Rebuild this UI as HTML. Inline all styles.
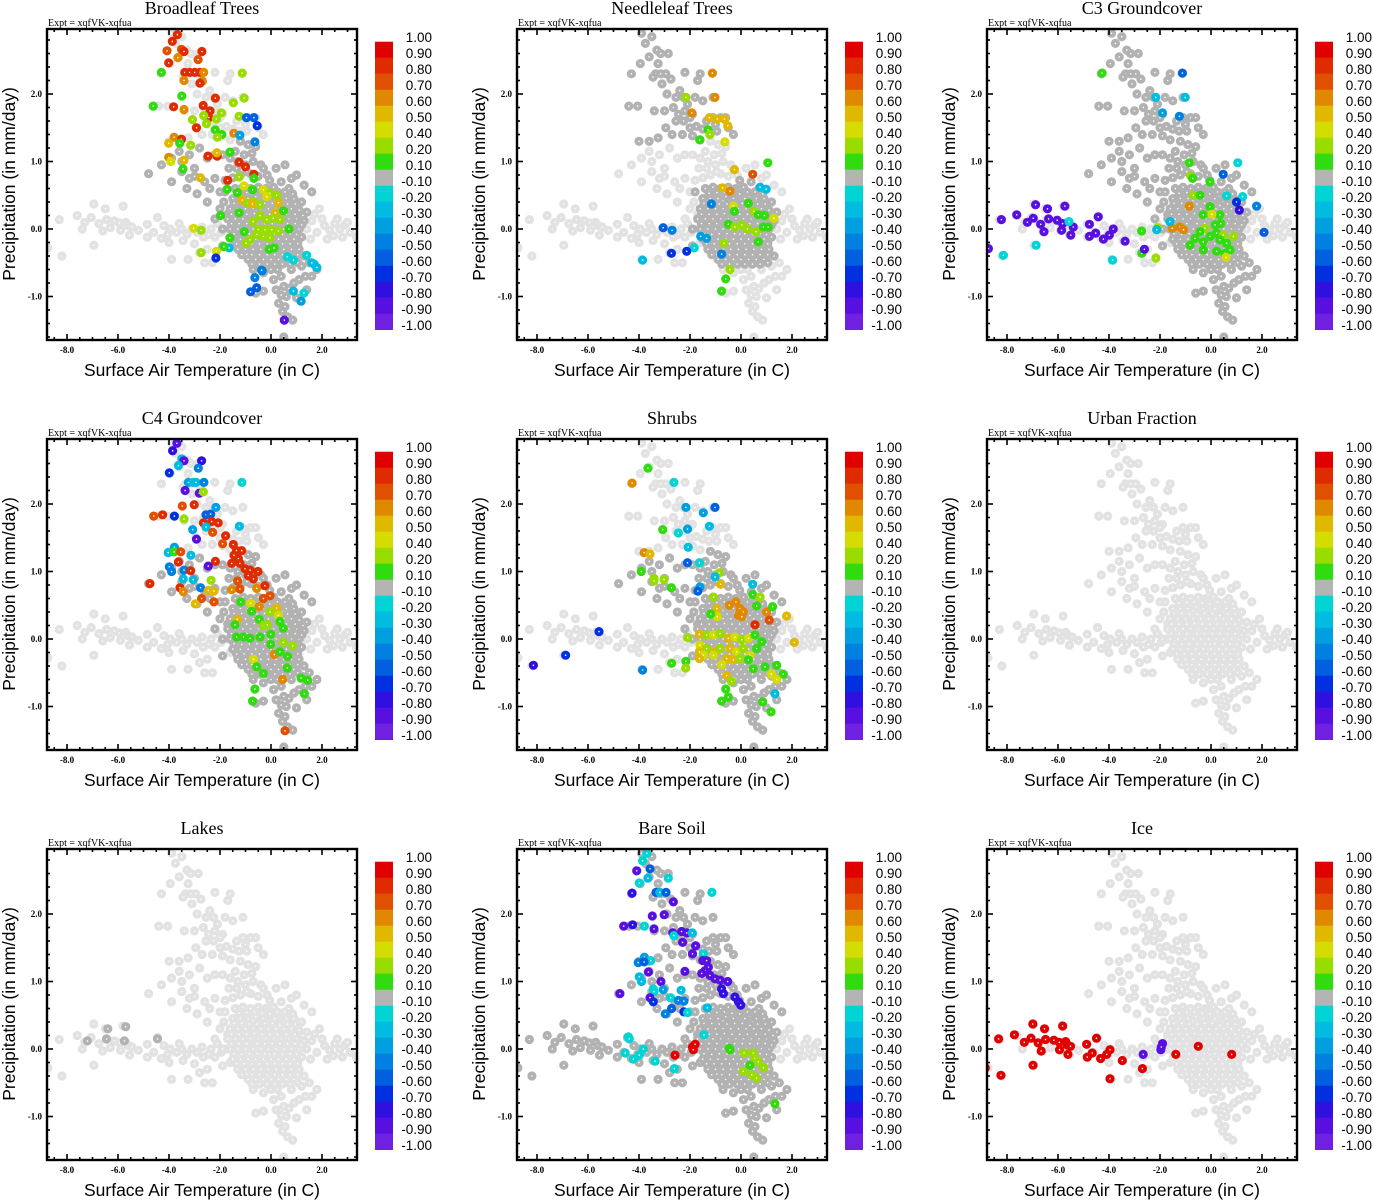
<!DOCTYPE html>
<html><head><meta charset="utf-8"><title>Scatter panels</title>
<style>
html,body{margin:0;padding:0;background:#fff;}
svg{display:block;}
.ttl{font-family:"Liberation Serif",serif;font-size:18px;}
.expt{font-family:"Liberation Serif",serif;font-size:10px;}
.tick{font-family:"Liberation Serif",serif;font-size:9px;font-weight:bold;}
.axl{font-family:"Liberation Sans",sans-serif;font-size:17.5px;}
.cbl{font-family:"Liberation Sans",sans-serif;font-size:13.5px;}
</style></head>
<body>
<svg id="chart" width="1373" height="1200" viewBox="0 0 1373 1200" xmlns="http://www.w3.org/2000/svg"></svg>
<script>
// ---------- data ----------
const panelTitles = ["Broadleaf Trees","Needleleaf Trees","C3 Groundcover","C4 Groundcover","Shrubs","Urban Fraction","Lakes","Bare Soil","Ice"];
const xTicks = [-8,-6,-4,-2,0,2];
const yTicks = [-1,0,1,2];
const cbLabels = ["1.00","0.90","0.80","0.70","0.60","0.50","0.40","0.20","0.10","-0.10","-0.20","-0.30","-0.40","-0.50","-0.60","-0.70","-0.80","-0.90","-1.00"];
const cbLevels = [1.0,0.9,0.8,0.7,0.6,0.5,0.4,0.2,0.1,-0.1,-0.2,-0.3,-0.4,-0.5,-0.6,-0.7,-0.8,-0.9,-1.0];
const cbColors = ["#e00000","#e02a00","#e05000","#e08800","#e0b800","#d4dc00","#98dc00","#30dc10","#b4b4b4","#00d4d4","#00bce0","#00a0e0","#0080e0","#0060e0","#0030e0","#3010e0","#5810e0","#7020e0"];

// shared background cloud (T, P)
const bandL = "-8.75,-0.28 -8.3,0.14 -8.2,-0.4 -7.6,0.2 -7.3,0.1 -7.05,0.17 -6.95,0.37 -6.95,-0.24 -6.75,0.08 -6.5,0.3 -6.6,-0.03 -6.45,0.14 -6.15,0.12 -5.95,0.09 -5.8,0.34 -5.9,-0.02 -5.7,0.1 -5.6,0.05 -5.55,-0.09 -5.45,0.03 -4.85,0.07 -4.85,-0.12 -4.6,-0.05 -4.45,0.17 -4.3,-0.14 -4.05,-0.08 -3.95,0.0 -3.9,-0.45 -3.45,-0.17 -4.2,0.05 -3.7,-0.05 -3.3,-0.08 -3.1,0.0 -2.9,-0.05 -2.7,0.03 -2.65,-0.12 -2.5,-0.3 -2.35,0.0 -2.2,-0.12 -2.1,0.08 -1.95,-0.05 -1.75,0.0 -1.6,-0.2 -1.5,0.06 -5.2,-0.02 -6.3,0.02 -7.4,0.0 -3.6,0.08 -3.0,-0.22 -2.8,-0.35 -3.25,-0.45 -2.6,-0.5 -2.3,-0.5 -4.0,-0.2 -3.5,0.0 -2.45,-0.08";
const bandR = "1.4,0.0 1.6,0.12 1.8,-0.05 2.0,0.15 2.1,0.05 2.3,-0.02 2.5,0.08 2.7,0.0 2.9,0.06 3.1,-0.05 3.35,-0.12 2.2,-0.15 1.9,0.3 2.6,0.15 2.45,-0.1 1.7,0.22 3.0,0.1 1.55,-0.15 2.8,-0.12";
const diagU = "-3.9,2.9 -3.5,2.85 -3.75,2.75 -3.3,2.65 -3.15,2.6 -3.6,2.55 -2.85,2.6 -3.95,2.45 -3.35,2.3 -3.15,2.3 -2.95,2.3 -3.45,2.25 -2.75,2.22 -3.1,2.15 -2.2,2.32 -1.6,2.3 -1.7,2.2 -4.3,2.3 -2.9,2.0 -2.55,1.95 -2.25,1.95 -1.5,1.9 -1.1,1.95 -4.05,1.82 -4.4,1.82 -3.4,1.75 -3.0,1.75 -2.65,1.8 -2.2,1.75 -1.9,1.7 -1.1,1.65 -0.8,1.65 -0.6,1.65 -2.95,1.5 -2.55,1.6 -2.25,1.6 -2.0,1.5 -1.75,1.52 -1.5,1.48 -1.25,1.45 -0.95,1.45 -0.3,1.4 -3.6,1.3 -3.25,1.35 -2.3,1.4 -1.9,1.38 -1.6,1.32 -2.45,1.7 -2.1,1.85 -1.8,1.95 -0.5,1.5 -4.0,1.3 -3.25,2.45 -2.4,2.05 -2.0,1.65 -1.35,1.6 -1.0,1.55 -2.7,1.4";
const diagL = "-1.2,1.3 -0.9,1.25 -0.6,1.22 -3.9,1.05 -3.5,1.0 -3.0,0.9 -2.5,1.05 -2.2,1.1 -1.9,1.1 -1.6,1.05 -1.3,1.0 -1.0,0.95 -0.7,1.0 -0.4,0.95 -4.8,0.82 -3.5,0.85 -3.0,0.78 -2.6,0.7 -2.2,0.75 -1.8,0.72 -1.5,0.76 -1.2,0.8 -0.8,0.82 -0.5,0.78 -0.15,0.8 0.2,0.9 0.55,0.95 1.0,0.8 -3.3,0.6 -2.9,0.52 -2.4,0.6 -2.0,0.55 -1.85,0.4 -3.6,1.15 -3.2,1.1 -2.8,1.2 -4.3,0.95 -3.9,0.7 -3.2,0.75 -2.0,0.3 -2.2,0.15 -1.7,0.22 -2.5,0.4 -1.4,1.15 0.8,0.75 1.3,0.65 1.6,0.55 -1.05,1.1 -0.75,1.12 -1.65,0.9 -1.35,0.9 -0.95,0.85 -0.3,0.9";
const blob = "-1.4,0.6 -1.1,0.62 -0.8,0.6 -0.5,0.62 -0.2,0.6 0.1,0.62 0.4,0.7 0.7,0.6 -1.5,0.45 -1.2,0.45 -0.9,0.45 -0.6,0.48 -0.3,0.45 0.0,0.45 0.3,0.48 0.6,0.45 0.9,0.45 1.2,0.4 -1.6,0.3 -1.3,0.3 -1.0,0.3 -0.7,0.3 -0.4,0.3 -0.1,0.3 0.2,0.3 0.5,0.3 0.8,0.3 1.1,0.28 1.4,0.25 -1.7,0.15 -1.4,0.15 -1.1,0.15 -0.8,0.15 -0.5,0.15 -0.2,0.15 0.1,0.15 0.4,0.15 0.7,0.15 1.0,0.15 1.3,0.12 -1.6,0.0 -1.3,0.0 -1.0,0.0 -0.7,0.0 -0.4,0.0 -0.1,0.0 0.2,0.0 0.5,0.0 0.8,0.0 1.1,0.0 -1.5,-0.15 -1.2,-0.15 -0.9,-0.15 -0.6,-0.15 -0.3,-0.15 0.0,-0.15 0.3,-0.15 0.6,-0.15 0.9,-0.15 1.2,-0.12 -1.3,-0.3 -1.0,-0.3 -0.7,-0.3 -0.4,-0.3 -0.1,-0.3 0.2,-0.3 0.5,-0.3 0.8,-0.3 1.1,-0.3 -0.9,-0.45 -0.6,-0.45 -0.3,-0.45 0.0,-0.45 0.3,-0.45 0.6,-0.45 0.9,-0.45 1.3,-0.4 -0.25,0.55 0.25,0.55 -0.55,0.22 0.35,0.22 -0.85,0.08 0.05,0.08 0.65,0.08 -1.15,-0.08 -0.45,-0.08 0.45,-0.08 1.0,-0.08 -0.15,-0.22 0.75,-0.22 -0.75,-0.38 0.15,-0.38 -0.5,0.4 0.45,0.4 -0.05,0.72 -1.8,0.55 -1.9,0.0 -1.9,-0.25";
const blob2 = "-1.25,0.53 -0.95,0.54 -0.65,0.55 -0.35,0.53 -0.05,0.52 0.15,0.45 0.55,0.55 0.85,0.52 -1.45,0.38 -1.15,0.38 -0.85,0.37 -0.55,0.37 -0.25,0.38 0.05,0.38 0.35,0.35 0.65,0.37 0.95,0.37 -1.55,0.22 -1.25,0.22 -0.95,0.22 -0.65,0.23 -0.35,0.22 -0.05,0.22 0.25,0.22 0.6,0.22 0.95,0.22 1.25,0.2 -1.55,0.08 -1.25,0.08 -0.95,0.08 -0.55,0.08 -0.25,0.08 0.35,0.08 0.95,0.08 1.2,0.06 -1.45,-0.07 -0.85,-0.07 -0.55,-0.07 -0.25,-0.07 0.15,-0.07 0.75,-0.07 -1.35,-0.22 -1.05,-0.22 -0.75,-0.22 -0.45,-0.22 0.15,-0.22 0.45,-0.22 1.05,-0.22 -1.15,-0.38 -0.45,-0.38 -0.15,-0.38 0.45,-0.38 0.75,-0.38 1.05,-0.38 -0.75,-0.52 -0.45,-0.52 -0.15,-0.52 0.15,-0.52 0.45,-0.52 0.75,-0.52 1.05,-0.5";
const tail = "0.0,-0.6 0.4,-0.7 0.8,-0.6 1.2,-0.55 1.5,-0.5 1.8,-0.6 1.6,-0.7 0.9,-0.8 0.5,-0.85 0.2,-0.9 -0.3,-0.92 0.6,-1.0 1.0,-1.02 0.3,-1.1 0.55,-1.15 0.65,-1.3 0.85,-1.35 0.45,-1.22 -0.6,-0.95 1.4,-0.9 -0.3,-0.65 -0.7,-0.6 1.1,-0.75 0.25,-0.6 1.35,-0.7 0.5,-1.6 0.1,-0.75 0.7,-0.88 0.4,-0.98";
const lakesDark = "-7.2,0.12 -6.4,0.3 -6.45,0.15 -5.7,0.33 -5.75,0.12 -4.45,0.15";

// which background groups are drawn dark grey in each panel
const darkGroups = [
  ["blob","blob2","tail","diagL"],
  ["blob","blob2","diagU"],
  ["blob","blob2","tail","diagU","diagL"],
  ["blob","blob2","tail","diagL"],
  ["blob","blob2","tail","diagL"],
  [],
  ["lakesDark"],
  ["bandL","blob","blob2","tail","diagU","diagL"],
  []
];

// coloured points per panel (T, P, value)
const broadleafPts = "-3.67,2.88,0.8 -3.87,2.78,0.8 -4.08,2.64,0.7 -3.51,2.66,0.7 -3.41,2.63,0.8 -3.65,2.54,0.6 -2.71,2.63,0.8 -2.86,2.51,0.7 -4.01,2.46,0.8 -4.3,2.32,0.1 -3.38,2.32,0.8 -3.19,2.32,0.8 -2.99,2.32,0.8 -2.79,2.32,0.8 -3.41,2.2,0.6 -2.64,2.32,0.6 -2.69,2.19,0.6 -2.79,2.16,0.8 -1.13,2.31,0.2 -3.5,1.97,0.1 -2.18,1.94,0.8 -1.05,1.94,0.2 -1.48,1.87,0.2 -4.62,1.82,0.1 -3.82,1.81,0.8 -3.41,1.77,0.6 -2.66,1.83,0.8 -2.39,1.75,0.8 -2.44,1.65,0.8 -2.64,1.68,0.2 -3.08,1.62,0.2 -2.53,1.56,0.2 -2.14,1.63,0.2 -1.94,1.72,0.2 -1.25,1.67,0.2 -0.96,1.65,-0.6 -0.67,1.65,-0.6 -0.54,1.53,-0.7 -2.92,1.5,0.8 -2.19,1.47,0.1 -1.93,1.4,0.1 -2.1,1.36,0.2 -1.46,1.42,0.6 -1.22,1.39,-0.4 -0.63,1.29,-0.5 -3.8,1.36,0.6 -3.51,1.33,0.8 -4.01,1.27,0.5 -3.58,1.27,0.1 -3.15,1.24,0.2 -1.61,1.14,0.1 -4.01,1.06,0.6 -3.93,1.0,0.4 -3.41,1.02,0.5 -2.47,1.08,0.8 -2.11,1.08,0.8 -2.12,1.13,0.5 -1.25,0.99,0.8 -1.0,0.92,0.8 -3.45,0.89,0.1 -0.67,0.81,0.8 -0.67,0.75,0.1 -2.77,0.76,0.5 -1.25,0.77,0.2 -1.7,0.72,0.8 -1.72,0.59,0.1 -1.06,0.64,0.4 -0.72,0.58,0.1 -1.32,0.54,0.1 -0.3,0.58,0.4 -0.04,0.53,0.2 -0.17,0.48,0.4 0.22,0.5,0.2 -1.13,0.43,0.5 -0.89,0.38,0.2 -0.7,0.41,0.2 -0.43,0.36,0.2 0.29,0.39,0.5 -0.73,0.37,0.5 0.17,0.24,0.5 -1.98,0.2,0.1 -1.25,0.24,0.1 0.49,0.27,0.1 -0.43,0.2,0.2 -0.17,0.14,0.2 0.09,0.16,0.2 0.35,0.14,0.2 -0.7,0.11,0.2 -0.5,-0.01,0.2 -0.24,-0.01,0.2 0.03,-0.01,0.2 0.29,-0.03,0.2 -0.3,-0.11,0.2 -0.04,-0.13,0.2 -0.56,-0.08,0.2 -0.83,-0.16,0.2 0.7,0.0,0.1 -1.05,-0.04,0.1 -1.61,-0.13,0.1 -3.03,0.01,0.4 -2.74,-0.02,0.2 -0.98,-0.21,0.2 -0.07,-0.3,0.1 0.12,-0.28,0.1 -1.64,-0.28,-0.3 -1.85,-0.26,0.1 -2.14,-0.33,0.4 -2.74,-0.35,0.2 -2.16,-0.43,-0.7 1.4,-0.39,-0.2 1.69,-0.52,-0.3 1.6,-0.5,-0.3 1.8,-0.57,-0.3 0.64,-0.41,-0.2 0.88,-0.46,-0.2 -0.34,-0.62,-0.5 -0.63,-0.72,-0.5 -0.37,-0.61,-0.5 -0.56,-0.87,-0.6 -0.8,-0.93,-0.6 1.29,-0.95,-0.2 0.88,-0.92,-0.3 1.18,-1.07,-0.4 0.52,-1.35,-0.9";
const needleleafPts = "-1.12,2.31,0.6 -2.16,1.95,0.2 -1.02,1.95,0.6 -1.93,1.72,0.6 -1.24,1.65,0.5 -0.93,1.63,0.5 -0.65,1.63,0.5 -0.52,1.53,0.5 -1.29,1.47,0.1 -1.22,1.4,0.2 -1.62,1.32,0.1 -0.63,1.29,0.4 1.05,0.98,0.1 -0.26,0.88,0.5 0.46,0.81,0.7 0.75,0.62,-0.3 0.99,0.59,-0.3 -0.72,0.61,0.5 -0.43,0.56,0.6 -1.16,0.37,-0.5 -0.3,0.34,0.4 0.29,0.38,0.1 -0.26,0.26,0.1 0.51,0.26,0.2 0.68,0.21,0.1 0.92,0.2,0.1 1.29,0.16,0.4 -0.5,0.07,0.1 -0.24,0.03,0.2 0.03,0.06,0.2 0.25,0.0,0.2 0.59,-0.04,0.2 0.88,0.03,0.1 1.07,0.03,0.1 -3.05,0.02,-0.6 -2.7,-0.02,-0.5 -0.67,-0.21,0.2 -1.83,-0.28,-0.2 -2.73,-0.36,-0.7 -2.13,-0.33,-0.7 -3.86,-0.46,-0.3 -0.76,-0.37,-0.5 -0.43,-0.6,0.3 -0.6,-0.74,0.1 -0.76,-0.92,0.1 0.68,-0.19,0.1 -1.58,-0.11,-0.4 -1.35,-0.14,-0.4";
const c3Pts = "-4.27,2.31,0.1 -1.12,2.31,-0.6 -1.01,1.95,-0.3 -2.17,1.95,-0.3 -1.9,1.72,-0.4 -1.24,1.67,-0.5 -0.85,0.98,0.1 1.05,0.98,-0.2 0.48,0.81,-0.6 -0.8,0.79,0.2 -0.72,0.75,0.1 -0.04,0.7,0.1 0.61,0.49,-0.2 1.24,0.48,-0.2 1.0,0.4,-0.7 1.79,0.34,-0.5 1.11,0.28,-0.8 -0.69,0.5,0.2 -0.85,0.34,0.6 -0.43,0.5,0.1 -0.04,0.33,0.1 -0.3,0.21,0.1 0.35,0.21,0.1 0.03,0.22,0.4 0.38,0.08,0.1 0.16,0.06,0.1 -0.24,0.01,0.2 -0.43,-0.04,0.1 0.22,-0.06,0.1 -0.04,-0.11,0.1 0.48,-0.09,0.2 -0.63,-0.14,0.1 -0.3,-0.19,0.1 -0.82,-0.24,0.1 -0.3,-0.31,0.1 0.22,-0.33,0.1 0.35,-0.16,0.1 0.61,-0.21,0.1 0.88,-0.11,0.2 0.55,-0.36,0.1 0.75,-0.31,0.1 -1.52,0.01,0.6 -1.22,0.03,0.6 -1.08,-0.01,0.6 -2.09,0.02,0.2 -2.72,-0.03,0.1 -2.71,-0.36,0.1 -2.16,-0.43,0.2 0.59,-0.42,0.4 2.08,-0.05,-0.6 -1.61,0.11,-0.3 -2.13,-0.01,-0.3 -8.73,-0.29,-0.9 -8.22,0.14,-0.9 -7.62,0.21,-0.9 -7.2,0.1,-0.9 -6.97,0.16,-0.9 -6.88,0.36,-0.9 -6.68,0.07,-0.9 -6.55,-0.04,-0.9 -6.41,0.3,-0.9 -6.37,0.15,-0.9 -6.03,0.13,-0.9 -5.82,0.08,-0.9 -5.73,0.34,-0.9 -5.86,-0.02,-0.9 -5.5,-0.09,-0.9 -5.4,0.03,-0.9 -4.77,0.07,-0.9 -4.77,-0.11,-0.9 -4.52,-0.06,-0.9 -4.42,0.18,-0.9 -4.22,-0.15,-0.9 -3.99,-0.09,-0.9 -3.83,0.0,-0.9 -3.37,-0.18,-0.9 -2.61,-0.3,-0.9 -8.14,-0.39,-0.2 -6.86,-0.24,-0.2 -5.57,0.11,-0.2 -3.86,-0.46,-0.2";
const c4Pts = "-3.69,2.9,-0.9 -3.86,2.79,-0.8 -3.5,2.67,-0.3 -3.41,2.64,-0.9 -3.63,2.57,-0.3 -3.99,2.46,-0.7 -2.72,2.64,-0.8 -2.85,2.53,-0.5 -3.24,2.32,-0.4 -3.05,2.32,-0.3 -2.94,2.32,-0.3 -2.63,2.32,-0.5 -3.37,2.2,-0.9 -2.81,2.16,-0.9 -2.65,2.18,0.2 -1.14,2.32,-0.2 -3.48,1.97,0.7 -3.01,1.99,0.8 -3.79,1.82,-0.7 -4.25,1.84,0.8 -4.6,1.82,0.7 -3.41,1.78,0.2 -2.55,1.84,-0.6 -2.37,1.85,-0.6 -2.16,1.95,-0.4 -2.65,1.72,0.8 -2.33,1.74,0.8 -2.07,1.72,0.8 -2.55,1.66,-0.3 -2.29,1.58,0.7 -1.24,1.67,-0.3 -3.07,1.62,-0.4 -2.92,1.48,-0.9 -1.78,1.53,0.8 -1.9,1.41,0.7 -3.79,1.36,-0.4 -4.03,1.28,-0.3 -3.8,1.29,0.1 -3.54,1.29,0.7 -3.14,1.24,-0.3 -3.63,1.14,0.8 -1.48,1.4,0.8 -1.35,1.31,0.8 -1.15,1.31,0.8 -1.45,1.24,0.8 -1.28,1.19,0.8 -1.54,1.12,0.8 -1.22,1.12,0.8 -1.02,1.04,0.8 -0.82,1.02,0.8 -0.89,0.94,0.8 -0.69,0.89,0.8 -0.51,1.0,0.8 -2.18,1.15,0.8 -2.46,1.08,-0.9 -3.99,1.07,-0.5 -3.9,1.0,-0.5 -3.41,1.02,-0.5 -3.15,1.01,0.8 -4.75,0.82,0.8 -3.44,0.89,-0.3 -3.05,0.88,-0.3 -2.35,0.87,0.2 -3.57,0.76,0.8 -3.44,0.7,0.6 -2.76,0.76,-0.5 -2.46,0.72,0.5 -2.24,0.71,0.5 -2.72,0.6,0.7 -2.24,0.55,0.7 -2.97,0.52,0.5 -1.31,0.86,0.7 -1.54,0.73,0.6 -1.22,0.74,0.7 -0.56,0.75,0.6 -0.24,0.79,0.8 -0.04,0.64,0.7 -0.3,0.6,0.7 -1.19,0.55,0.1 -0.8,0.53,0.4 -0.46,0.48,0.6 0.22,0.46,0.5 -0.76,0.41,0.1 -0.04,0.4,0.2 0.29,0.35,0.4 -0.46,0.29,0.1 -0.3,0.2,0.2 0.35,0.26,0.1 0.48,0.16,0.1 -0.14,0.21,0.2 -1.32,0.29,0.5 -1.41,0.21,0.1 -1.35,0.03,0.1 -1.08,0.03,0.1 -0.82,0.01,0.1 -0.43,0.03,0.1 -0.01,0.07,0.1 0.48,-0.05,0.2 0.85,-0.1,0.2 -0.01,-0.08,0.1 0.13,-0.23,0.6 0.35,-0.19,0.1 0.65,-0.26,0.1 -0.69,-0.3,0.4 -0.56,-0.41,0.1 -0.3,-0.51,0.1 0.64,-0.43,0.1 0.46,-0.6,0.6 1.18,-0.58,0.1 1.44,-0.61,0.1 1.31,-0.81,0.1 -0.63,-0.74,0.1 -0.72,-0.92,0.1 0.55,-1.36,0.7";
const shrubsPts = "-4.27,2.31,0.6 -3.65,2.53,0.1 -2.63,2.32,-0.2 -2.16,1.95,-0.4 -1.02,1.95,-0.6 -1.48,1.87,-0.4 -1.24,1.67,-0.3 -2.1,1.63,-0.4 -2.46,1.57,-0.2 -3.07,1.62,0.1 -2.07,1.36,-0.3 -3.8,1.28,0.6 -3.57,1.26,0.5 -2.1,1.13,-0.6 -1.63,1.13,-0.2 -3.91,1.0,0.1 -3.41,0.9,0.2 -3.41,0.86,0.2 -3.02,0.88,0.2 -2.73,0.76,0.1 -0.85,0.98,0.2 -1.02,0.92,-0.3 -0.8,0.81,0.5 -1.61,0.77,-0.4 -1.69,0.71,-0.6 0.46,0.81,-0.3 0.46,0.66,0.1 0.75,0.62,0.2 -1.08,0.62,0.2 -0.46,0.5,0.6 -0.2,0.55,0.6 -0.04,0.45,0.6 0.09,0.4,0.6 -0.1,0.35,0.6 0.03,0.33,0.6 -0.95,0.45,0.5 -0.93,0.33,0.4 -1.19,0.37,0.1 0.61,0.49,0.1 1.0,0.4,0.6 1.24,0.48,0.1 1.79,0.34,0.5 1.11,0.28,0.7 0.55,0.21,0.8 2.09,-0.05,0.5 -2.09,0.02,0.2 -1.63,0.07,0.5 -1.35,0.06,0.2 -1.08,0.06,0.4 -0.82,0.08,0.2 -0.5,0.01,0.5 -0.24,0.03,0.4 0.03,-0.01,0.2 0.29,0.01,0.4 0.55,0.06,0.1 0.81,-0.04,0.1 -1.61,-0.09,0.4 -1.35,-0.14,0.2 -1.02,-0.19,0.5 -0.82,-0.14,0.2 -0.43,-0.14,0.5 -0.17,-0.19,0.4 0.09,-0.14,0.2 0.35,-0.24,0.4 0.61,-0.14,0.1 -1.63,-0.19,0.5 -1.48,-0.24,0.4 -1.63,-0.29,0.5 -1.08,-0.24,0.4 -0.56,-0.29,0.5 -0.3,-0.31,0.5 -0.04,-0.29,0.2 0.29,-0.31,0.1 -0.76,-0.38,0.4 -2.72,-0.36,0.1 -2.16,-0.33,0.1 -2.17,-0.43,0.2 -3.86,-0.46,-0.5 0.48,-0.44,0.1 0.94,-0.41,0.1 1.4,-0.39,0.1 1.19,-0.52,0.4 1.66,-0.52,0.1 1.4,-0.6,0.4 -0.56,-0.54,0.5 -0.37,-0.63,0.2 -0.6,-0.74,0.1 -0.76,-0.92,0.1 -0.5,-0.86,0.1 1.33,-0.81,-0.3 0.85,-0.93,0.1 1.18,-1.08,0.1 -8.14,-0.39,-0.8 -6.88,-0.24,-0.7 -5.57,0.11,-0.7";
const urbanPts = "";
const lakesPts = "";
const bareSoilPts = "-3.69,2.9,-0.2 -3.86,2.79,-0.2 -4.09,2.64,-0.9 -3.57,2.67,-0.6 -3.65,2.53,-0.3 -3.99,2.46,-0.2 -2.85,2.53,-0.2 -4.27,2.31,-0.8 -3.33,2.32,-0.6 -3.18,2.32,-0.3 -2.94,2.32,-0.6 -2.65,2.18,-0.9 -1.14,2.32,-0.2 -3.48,1.97,-0.9 -3.01,1.99,-0.9 -3.79,1.82,-0.2 -4.25,1.84,-0.8 -4.6,1.82,-0.9 -3.41,1.78,-0.9 -2.68,1.72,-0.9 -2.63,1.68,-0.2 -2.33,1.74,-0.9 -2.13,1.72,-0.9 -1.91,1.72,-0.3 -2.29,1.58,-0.9 -1.78,1.53,-0.9 -1.9,1.41,-0.9 -1.48,1.41,-0.2 -3.79,1.36,-0.4 -4.03,1.28,-0.5 -3.54,1.31,-0.2 -3.8,1.29,-0.6 -3.63,1.14,-0.9 -2.2,1.15,-0.9 -3.14,1.0,-0.9 -1.5,1.31,-0.9 -1.35,1.31,-0.9 -1.28,1.21,-0.9 -1.41,1.16,-0.9 -1.54,1.12,-0.9 -1.22,1.09,-0.9 -1.02,1.04,-0.9 -0.82,1.02,-0.9 -0.76,0.89,-0.8 -0.52,1.0,-0.9 -0.69,0.82,-0.8 -0.24,0.77,-0.8 -0.1,0.7,-0.8 -0.01,0.65,-0.8 -3.99,1.07,-0.3 -3.9,1.0,-0.3 -3.44,0.89,-0.2 -3.41,0.85,-0.2 -3.05,0.88,-0.4 -2.35,0.87,-0.3 -4.75,0.82,-0.9 -3.57,0.76,-0.9 -3.44,0.7,-0.7 -2.76,0.76,-0.2 -2.46,0.72,-0.5 -2.24,0.71,-0.5 -2.72,0.6,-0.6 -2.24,0.55,-0.7 -2.1,0.54,-0.2 -2.97,0.52,-0.5 -1.32,0.61,-0.3 -4.42,0.18,-0.2 -4.38,0.15,-0.2 -4.54,-0.06,-0.2 -4.22,-0.15,-0.2 -3.99,-0.09,-0.2 -3.83,0.0,-0.2 -3.37,-0.18,-0.2 -2.61,-0.29,-0.2 -1.45,0.21,-0.2 -2.59,-0.09,1.0 -1.9,0.03,1.0 -1.87,-0.01,1.0 -1.8,0.07,1.0 -0.46,0.01,0.1 -0.43,-0.01,0.1 0.12,-0.06,0.2 0.48,-0.06,0.2 0.55,-0.14,0.2 0.68,-0.19,0.2 0.35,-0.24,0.1 0.09,-0.33,0.2 0.42,-0.38,0.2 0.61,-0.43,0.2 0.88,-0.28,0.2 1.33,-0.81,0.1";
const icePts = "-8.85,-0.28,1.0 -8.33,0.15,1.0 -8.24,-0.39,1.0 -7.71,0.21,1.0 -7.32,0.1,1.0 -7.06,0.16,1.0 -6.99,0.37,1.0 -6.98,-0.24,1.0 -6.78,0.09,1.0 -6.53,0.3,1.0 -6.66,-0.03,1.0 -6.49,0.14,1.0 -6.16,0.13,1.0 -5.95,0.1,1.0 -5.82,0.34,1.0 -5.94,-0.01,1.0 -5.7,0.11,1.0 -5.64,0.06,1.0 -5.51,0.04,1.0 -5.61,-0.08,1.0 -4.88,0.07,1.0 -4.85,-0.12,1.0 -4.66,-0.06,1.0 -4.49,0.16,1.0 -4.33,-0.14,1.0 -4.09,-0.08,1.0 -3.96,-0.01,1.0 -3.96,-0.44,1.0 -3.48,-0.17,1.0 -2.69,-0.29,1.0 -1.38,-0.08,1.0 -0.5,0.04,1.0 0.81,-0.08,1.0 -2.66,-0.08,-0.9 -1.97,-0.01,-0.9 -1.9,0.08,-0.9 -1.95,0.03,-0.9";
const panelPts = [broadleafPts,needleleafPts,c3Pts,c4Pts,shrubsPts,urbanPts,lakesPts,bareSoilPts,icePts];

// ---------- drawing ----------
const NS = "http://www.w3.org/2000/svg";
const svg = document.getElementById("chart");
const groupsByName = {bandL:bandL, bandR:bandR, diagU:diagU, diagL:diagL, blob:blob, blob2:blob2, tail:tail, lakesDark:lakesDark};
const bgOrder = ["bandL","bandR","diagU","diagL","blob","blob2","tail"];
const LIGHT = "#e2e2e2", DARK = "#b2b2b2";

function parse(str, n){
  const out = [];
  str.trim().split(/\s+/).forEach(tok => { if(!tok) return; const a = tok.split(",").map(Number); if(a.length === n) out.push(a); });
  return out;
}
function mk(tag, attrs, parent){
  const e = document.createElementNS(NS, tag);
  for(const k in attrs) e.setAttribute(k, attrs[k]);
  (parent || svg).appendChild(e);
  return e;
}
function colorFor(v){
  for(let i = 0; i < cbColors.length; i++){ if(v >= cbLevels[i+1] - 1e-9) return cbColors[i]; }
  return cbColors[cbColors.length-1];
}

panelTitles.forEach((title, idx) => {
  const c = idx % 3, r = Math.floor(idx / 3);
  const ox = c * 470, oy = r * 410;
  const x0 = 47 + ox, x1 = 357 + ox, y0 = 29 + oy, y1 = 340 + oy;
  const xS = T => ox + 271 + T * 25.5;
  const yS = P => oy + 229 - P * 67.5;

  const g = mk("g", {});
  
  

  const t = mk("text", {x: x0 + 155, y: 14 + oy, "text-anchor": "middle", class: "ttl"}, g);
  t.textContent = title;
  
  

  const ex = mk("text", {x: x0 + 1, y: 26 + oy, class: "expt"}, g);
  ex.textContent = "Expt = xqfVK-xqfua";
  
  

  const cp = mk("clipPath", {id: "clip" + idx}, g);
  mk("rect", {x: x0, y: y0, width: x1 - x0, height: y1 - y0}, cp);

  const pts = mk("g", {"clip-path": "url(#clip" + idx + ")"}, g);
  
  

  const dark = darkGroups[idx];
  const drawPt = (T, P, col) => {
    const ci = mk("circle", {cx: xS(T).toFixed(1), cy: yS(P).toFixed(1), r: 2.7, fill: "#fff", stroke: col, "stroke-width": 3.8}, pts);
    
    
  };
  bgOrder.forEach(name => { if(!dark.includes(name)) parse(groupsByName[name], 2).forEach(p => drawPt(p[0], p[1], LIGHT)); });
  bgOrder.concat(["lakesDark"]).forEach(name => { if(dark.includes(name)) parse(groupsByName[name], 2).forEach(p => drawPt(p[0], p[1], DARK)); });
  parse(panelPts[idx], 3).forEach(p => drawPt(p[0], p[1], colorFor(p[2])));

  // frame
  const fr = mk("rect", {x: x0, y: y0, width: x1 - x0, height: y1 - y0, fill: "none", stroke: "#000", "stroke-width": 2.4}, g);
  
  

  // x ticks
  for(let k = -17; k <= 6; k++){
    const T = k * 0.5, X = xS(T);
    if(X < x0 + 1 || X > x1 - 1) continue;
    const major = (k % 4 === 0);
    const L = major ? 6 : 3;
    mk("line", {x1: X, y1: y1, x2: X, y2: y1 - L, stroke: "#000", "stroke-width": 1.6}, g);
    mk("line", {x1: X, y1: y0, x2: X, y2: y0 + L, stroke: "#000", "stroke-width": 1.6}, g);
  }
  xTicks.forEach(T => {
    const tl = mk("text", {x: xS(T), y: y1 + 13, "text-anchor": "middle", class: "tick"}, g);
    tl.textContent = T.toFixed(1);
    
    
  });
  // y ticks
  for(let k = -8; k <= 14; k++){
    const P = k * 0.2, Y = yS(P);
    if(Y < y0 + 1 || Y > y1 - 1) continue;
    const major = (k % 5 === 0);
    const L = major ? 6 : 3;
    mk("line", {x1: x0, y1: Y, x2: x0 + L, y2: Y, stroke: "#000", "stroke-width": 1.6}, g);
    mk("line", {x1: x1, y1: Y, x2: x1 - L, y2: Y, stroke: "#000", "stroke-width": 1.6}, g);
  }
  yTicks.forEach(P => {
    const tl = mk("text", {x: x0 - 5, y: yS(P) + 3, "text-anchor": "end", class: "tick"}, g);
    tl.textContent = P.toFixed(1);
    
    
  });

  const xl = mk("text", {x: x0 + 155, y: 376 + oy, "text-anchor": "middle", class: "axl"}, g);
  xl.textContent = "Surface Air Temperature (in C)";
  
  

  const yl = mk("text", {x: 0, y: 0, "text-anchor": "middle", class: "axl", transform: "translate(" + (15 + ox) + "," + (184 + oy) + ") rotate(-90)"}, g);
  yl.textContent = "Precipitation (in mm/day)";
  
  

  // colour bar
  const cb = mk("g", {}, g);
  
  
  const cbx = 375 + ox, cby = 41.7 + oy;
  cbColors.forEach((col, i) => {
    const rc = mk("rect", {x: cbx, y: cby + i * 16, width: 18, height: 16.3, fill: col}, cb);
    
    
  });
  cbLabels.forEach((lab, i) => {
    const tl = mk("text", {x: 432 + ox, y: cby + i * 16 + 0.5, "text-anchor": "end", class: "cbl"}, cb);
    tl.textContent = lab;
    
    
  });
});
</script>
</body></html>
